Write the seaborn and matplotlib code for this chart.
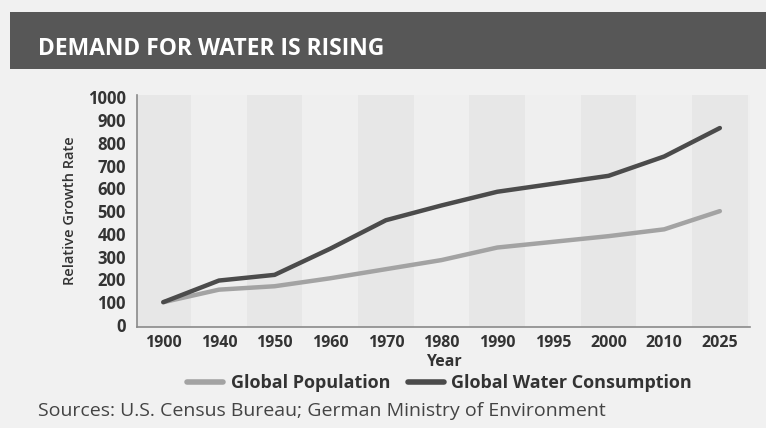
import matplotlib
matplotlib.use('Agg')
from matplotlib import pyplot as plt
from matplotlib.patches import Rectangle
import seaborn as sns
import pandas as pd

years = ['1900', '1940', '1950', '1960', '1970', '1980', '1990', '1995', '2000', '2010', '2025']
population = [100, 155, 170, 205, 245, 285, 340, 365, 390, 420, 500]
water = [100, 195, 220, 335, 460, 525, 585, 620, 655, 740, 865]
series_names = ['Global Population', 'Global Water Consumption']
series_colors = ['#a3a3a3', '#4b4b4b']


def build_frame() -> pd.DataFrame:
    rows = []
    for name, values in zip(series_names, [population, water]):
        for i, (year, v) in enumerate(zip(years, values)):
            rows.append({'pos': i, 'year': year, 'series': name, 'value': v})
    return pd.DataFrame(rows)


if __name__ == '__main__':
    sns.set_theme(style='white')
    plt.rcParams['font.family'] = ['Open Sans', 'DejaVu Sans']

    df = build_frame()
    fig = plt.figure(figsize=(7.66, 4.28), dpi=100, facecolor='#f1f1f1')
    ax = fig.add_axes([0.179, 0.236, 0.800, 0.542])
    ax.set_facecolor('#efefef')

    # alternating column shading
    for i in range(0, len(years), 2):
        ax.axvspan(i - 0.5, i + 0.5, color='#e7e7e7', lw=0, zorder=0)

    sns.lineplot(data=df, x='pos', y='value', hue='series', hue_order=series_names,
                 palette=dict(zip(series_names, series_colors)), linewidth=3.2,
                 ax=ax, legend=False, zorder=3)

    ax.set_xlim(-0.47, 10.54)
    ax.set_ylim(-9, 1010)
    ax.set_xticks(range(len(years)))
    ax.set_xticklabels(years)
    ax.set_yticks(range(0, 1001, 100))
    ax.tick_params(axis='x', length=0, labelsize=11.5, colors='#333333', pad=6)
    ax.tick_params(axis='y', length=0, labelsize=12, colors='#333333', pad=8)
    for lbl in ax.get_xticklabels() + ax.get_yticklabels():
        lbl.set_fontweight('bold')
    ax.set_xlabel('Year', fontsize=11.5, fontweight='bold', color='#333333', labelpad=2)
    ax.set_ylabel('Relative Growth Rate', fontsize=10.5, fontweight='semibold',
                  color='#333333', labelpad=8)
    for side in ['top', 'right']:
        ax.spines[side].set_visible(False)
    for side in ['left', 'bottom']:
        ax.spines[side].set_color('#8a8a8a')
        ax.spines[side].set_linewidth(1.2)

    # header band
    fig.patches.append(Rectangle((0.013, 0.838), 0.987, 0.135, transform=fig.transFigure,
                                 facecolor='#575757', edgecolor='none', zorder=0))
    fig.text(0.05, 0.886, 'DEMAND FOR WATER IS RISING', color='white',
             fontsize=16.5, fontweight='bold', va='center', ha='left')

    handles = [plt.Line2D([], [], color=c, lw=4) for c in series_colors]
    fig.legend(handles, series_names, loc='center', bbox_to_anchor=(0.574, 0.105),
               ncol=2, frameon=False, handlelength=2.0,
               handletextpad=0.4, columnspacing=1.0, labelcolor='#333333',
               prop={'weight': 'bold', 'size': 13})

    fig.text(0.05, 0.04, 'Sources: U.S. Census Bureau; German Ministry of Environment',
             fontsize=14, color='#444444', ha='left', va='center')

    plt.savefig('out.png', dpi=100, facecolor=fig.get_facecolor())
